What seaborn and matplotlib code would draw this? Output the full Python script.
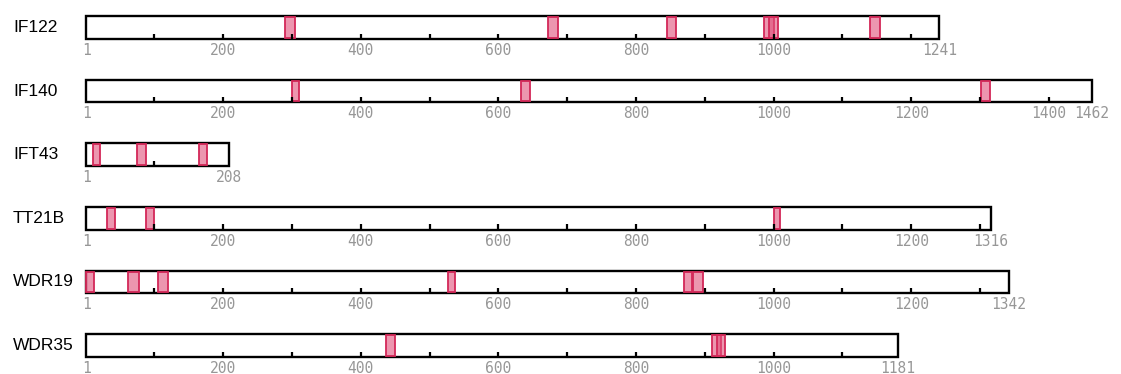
import numpy as np
import pandas as pd
import matplotlib
matplotlib.use('Agg')
import matplotlib.pyplot as plt
import seaborn as sns

# --- Data ---
proteins = ['IF122', 'IF140', 'IFT43', 'TT21B', 'WDR19', 'WDR35']
lengths = [1241, 1462, 208, 1316, 1342, 1181]

# highlighted sites: protein index, start residue, end residue
site_protein = [0, 0, 0, 0, 0, 0,
                1, 1, 1,
                2, 2, 2,
                3, 3, 3,
                4, 4, 4, 4, 4, 4,
                5, 5, 5]
site_start = [290, 672, 845, 986, 993, 1140,
              300, 633, 1302,
              10, 75, 165,
              31, 88, 1000,
              1, 62, 105, 526, 869, 883,
              437, 911, 917]
site_end = [305, 687, 858, 1000, 1006, 1155,
            310, 646, 1314,
            21, 88, 176,
            42, 100, 1009,
            12, 77, 120, 537, 881, 898,
            449, 924, 930]

# --- Styling ---
BOX_H = 0.354
TICK_LEN = 0.08
LABEL_GAP = 50
sns.set_theme(style='white')
plt.rcParams['font.family'] = ['Liberation Sans', 'DejaVu Sans']

fig = plt.figure(figsize=(11.21, 3.74), dpi=100)
ax = fig.add_axes([0, 0, 1, 1])

df = pd.DataFrame({'protein': proteins, 'length': lengths})
sns.barplot(data=df, x='length', y='protein', orient='h', width=BOX_H,
            color='white', edgecolor='black', linewidth=1.7, saturation=1,
            zorder=1, ax=ax)

# sites as translucent crimson blocks
for p, s, e in zip(site_protein, site_start, site_end):
    ax.barh(p, e - s, left=s, height=BOX_H - 0.03, color='#e0507a', alpha=0.6,
            edgecolor='#d42a5a', linewidth=1.2, zorder=2)
    ax.barh(p, e - s, left=s, height=BOX_H - 0.03, fill=False,
            edgecolor='#d42a5a', linewidth=1.2, zorder=2)

# ruler ticks and labels
for i, (name, L) in enumerate(zip(proteins, lengths)):
    bottom = i + BOX_H / 2
    ticks = np.arange(100, L - 10, 100)
    ax.vlines(ticks, bottom - TICK_LEN, bottom, color='black', linewidth=1.6, zorder=3)
    labels = [1] + [t for t in range(200, L, 200) if L - t >= LABEL_GAP] + [L]
    for t in labels:
        ax.text(t, i + 0.36, str(t), ha='center', va='center', fontsize=10.5,
                color='#979797', family='DejaVu Sans Mono')
    ax.text(13 / 1121, i, name, transform=ax.get_yaxis_transform(), ha='left',
            va='center', fontsize=12.5, color='black')

ax.set_xlim(0.5 - 86 / 0.688, 0.5 + (1121 - 86) / 0.688)
ax.set_ylim(5.448, -0.432)
ax.axis('off')

plt.savefig('out.png', dpi=100)
